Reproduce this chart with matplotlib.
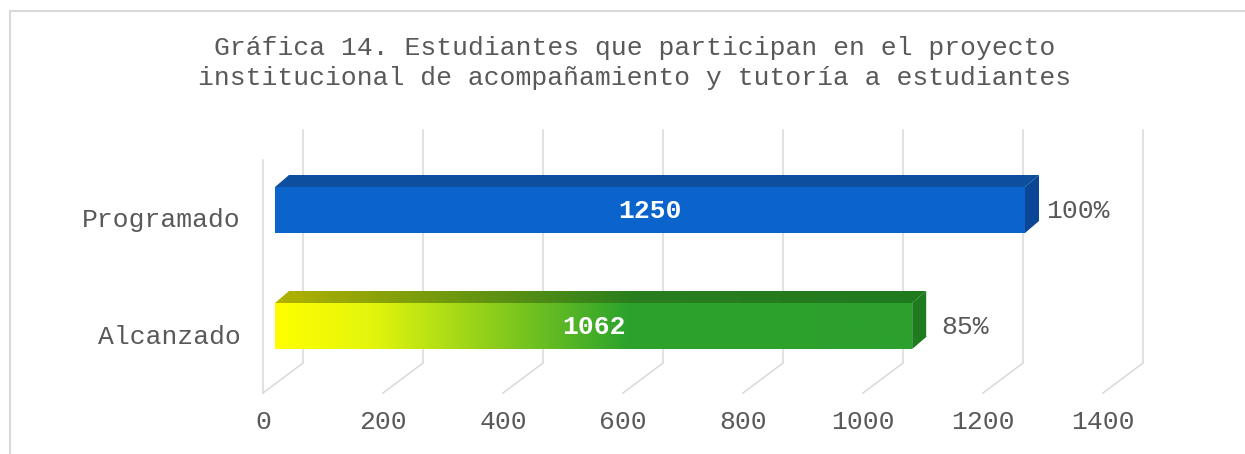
import numpy as np
import matplotlib.pyplot as plt
from matplotlib.patches import Polygon
from matplotlib.lines import Line2D
from matplotlib.colors import LinearSegmentedColormap

# datos
categorias = ['Alcanzado', 'Programado']
valores = [1062, 1250]
etiquetas_pct = ['85%', '100%']
ticks_x = [0, 200, 400, 600, 800, 1000, 1200, 1400]
titulo = ('Gráfica 14. Estudiantes que participan en el proyecto\n'
          'institucional de acompañamiento y tutoría a estudiantes')

W, H = 1245, 454
plt.rcParams['font.family'] = ['Liberation Mono', 'DejaVu Sans Mono']
gris_txt = '#595959'
gris_grid = '#D9D9D9'
fs = 19

fig = plt.figure(figsize=(W / 100, H / 100), dpi=100)

# ejes colocados en pixeles (0.6 px por unidad en x, 116 px por categoria en y)
x0_px, x1_px = 263, 1103
yb_px, yt_px = 393, 130
ax = fig.add_axes([x0_px / W, 1 - yb_px / H, (x1_px - x0_px) / W, (yb_px - yt_px) / H])
ux = 1400 / (x1_px - x0_px)   # unidades por pixel en x
uy = 1 / 116                  # unidades por pixel en y
ylo, yhi = -59 * uy, 204 * uy

# profundidad del "3D"
dx, dy = 40 * ux, 30 * uy

# piso y pared de fondo
for t in ticks_x:
    ax.plot([t, t + dx], [ylo, ylo + dy], color=gris_grid, lw=1.1, clip_on=False, zorder=1)
    ax.plot([t + dx, t + dx], [ylo + dy, yhi], color=gris_grid, lw=1.1, clip_on=False, zorder=1)
# pared izquierda
ax.plot([0, 0], [ylo, yhi - dy], color=gris_grid, lw=1.1, clip_on=False, zorder=1)


def barra(ax, i, v, front, top, side):
    xa = 12 * ux
    xb = xa + v
    yc = i + 8 * uy
    ya, yb = yc - 23 * uy, yc + 23 * uy
    ox, oy = 14 * ux, 12 * uy
    p_top = Polygon([(xa, yb), (xb, yb), (xb + ox, yb + oy), (xa + ox, yb + oy)], closed=True)
    p_side = Polygon([(xb, ya), (xb + ox, ya + oy), (xb + ox, yb + oy), (xb, yb)], closed=True)
    p_front = Polygon([(xa, ya), (xb, ya), (xb, yb), (xa, yb)], closed=True)
    for p, c in ((p_top, top), (p_side, side), (p_front, front)):
        if isinstance(c, str):
            p.set_facecolor(c)
            p.set_edgecolor('none')
            p.set_zorder(3)
            ax.add_patch(p)
        else:
            p.set_facecolor('none')
            p.set_edgecolor('none')
            ax.add_patch(p)
            (x_a, x_b), (y_a, y_b) = c[1], c[2]
            grad = np.linspace(0, 1, 256).reshape(1, -1)
            im = ax.imshow(grad, cmap=c[0], extent=[x_a, x_b, y_a, y_b],
                           aspect='auto', zorder=3, interpolation='bilinear')
            im.set_clip_path(p)
    return xa, xb, yc


cm_front = LinearSegmentedColormap.from_list(
    'f', [(0, '#FFFF00'), (0.15, '#E4F50C'), (0.55, '#2DA32C'), (1, '#2CA02C')])
cm_top = LinearSegmentedColormap.from_list(
    't', [(0, '#B2B200'), (0.55, '#2A7E1E'), (1, '#1F7A1F')])

estilos = [
    dict(front=(cm_front, (12 * ux, 12 * ux + valores[0]), (-1, 1)),
         top=(cm_top, (12 * ux, 26 * ux + valores[0]), (-1, 1)),
         side='#1E7B1E'),
    dict(front='#0A64CC', top='#0E4E9E', side='#0A4596'),
]

for i, v in enumerate(valores):
    xa, xb, yc = barra(ax, i, v, **estilos[i])
    ax.text((xa + xb) / 2, i + 7 * uy, str(v), color='white', fontsize=fs,
            fontweight='bold', ha='center', va='center', zorder=5)
    ax.text(xb + 53 * ux, i + 7 * uy, etiquetas_pct[i], color=gris_txt, fontsize=fs,
            ha='center', va='center', clip_on=False, zorder=5)

ax.set_xlim(0, 1400)
ax.set_ylim(ylo, yhi)
ax.set_xticks(ticks_x)
ax.set_xticklabels([str(t) for t in ticks_x])
ax.set_yticks(range(len(categorias)))
ax.set_yticklabels(categorias)
ax.tick_params(axis='x', length=0, pad=12, labelsize=fs, labelcolor=gris_txt)
ax.tick_params(axis='y', length=0, pad=16, labelsize=fs, labelcolor=gris_txt)
for s in ax.spines.values():
    s.set_visible(False)
ax.patch.set_visible(False)

fig.text(634.5 / W, 1 - 63 / H, titulo, ha='center', va='center', multialignment='center',
         fontsize=fs, color=gris_txt, linespacing=1.3)

# marco del grafico
fig.add_artist(Line2D([10 / W, 1], [1 - 11 / H, 1 - 11 / H], color=gris_grid, lw=1.5))
fig.add_artist(Line2D([10 / W, 10 / W], [0, 1 - 11 / H], color=gris_grid, lw=1.5))

fig.savefig('out.png', dpi=100)
